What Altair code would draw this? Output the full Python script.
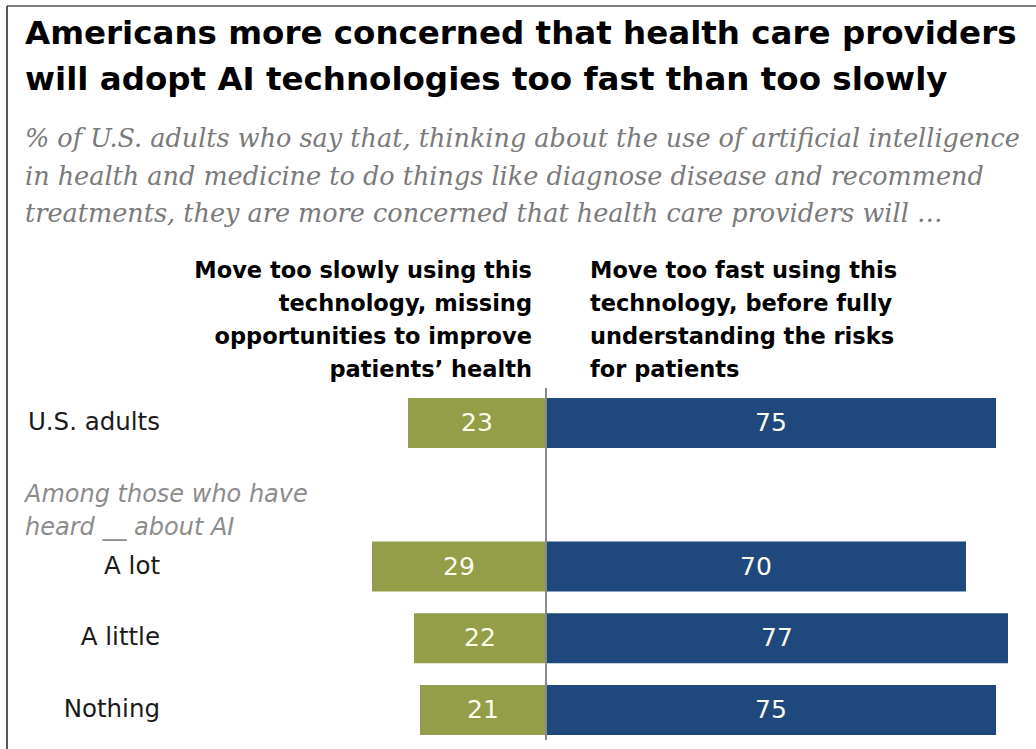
import altair as alt
import pandas as pd

# ---- data ----
groups = ["U.S. adults", "A lot", "A little", "Nothing"]
too_slow = [23, 29, 22, 21]
too_fast = [75, 70, 77, 75]
row_order = ["U.S. adults", "_gap_", "A lot", "A little", "Nothing"]

title_lines = ["Americans more concerned that health care providers",
               "will adopt AI technologies too fast than too slowly"]
subtitle_lines = ["% of U.S. adults who say that, thinking about the use of artificial intelligence",
                  "in health and medicine to do things like diagnose disease and recommend",
                  "treatments, they are more concerned that health care providers will \u2026"]
left_header = ["Move too slowly using this", "technology, missing",
               "opportunities to improve", "patients\u2019 health"]
right_header = ["Move too fast using this", "technology, before fully",
                "understanding the risks", "for patients"]
among_lines = ["Among those who have", "heard __ about AI"]

GREEN = "#949d48"
BLUE = "#1f497d"
SANS = "DejaVu Sans"

df = pd.DataFrame({"group": groups, "slow": too_slow, "fast": too_fast})
one = pd.DataFrame({"a": [0]})

xscale = alt.Scale(domain=[-91, 81.6667], range=[0, 1036], nice=False, zero=False)
yscale = alt.Scale(domain=row_order, range=[387, 746], paddingInner=0, paddingOuter=0)

base = alt.Chart(df).transform_calculate(
    neg="-datum.slow", zero="0", slow_mid="-datum.slow/2", fast_mid="datum.fast/2"
)

slow_bar = base.mark_bar(size=50, color=GREEN).encode(
    x=alt.X("neg:Q", scale=xscale, axis=None),
    x2="zero:Q",
    y=alt.Y("group:N", scale=yscale, axis=None),
)
fast_bar = base.mark_bar(size=50, color=BLUE).encode(
    x=alt.X("zero:Q", scale=xscale, axis=None),
    x2="fast:Q",
    y=alt.Y("group:N", scale=yscale, axis=None),
)
slow_txt = base.mark_text(font=SANS, fontSize=25, color="#fbfbee",
                          baseline="middle", align="center").encode(
    x=alt.X("slow_mid:Q", scale=xscale, axis=None),
    y=alt.Y("group:N", scale=yscale, axis=None),
    text="slow:Q",
)
fast_txt = base.mark_text(font=SANS, fontSize=25, color="#fbfbee",
                          baseline="middle", align="center").encode(
    x=alt.X("fast_mid:Q", scale=xscale, axis=None),
    y=alt.Y("group:N", scale=yscale, axis=None),
    text="fast:Q",
)
row_lbl = base.mark_text(font=SANS, fontSize=24.5, color="#1a1a1a",
                         baseline="middle", align="right").encode(
    x=alt.value(160),
    y=alt.Y("group:N", scale=yscale, axis=None),
    text="group:N",
)

center = alt.Chart(one).mark_rule(color="#8a8a8a", strokeWidth=2).encode(
    x=alt.X("a:Q", scale=xscale, axis=None),
    y=alt.value(388), y2=alt.value(740),
)

def txt(lines, x, y, size, weight="normal", style="normal", color="#000",
        font=SANS, align="left", lh=30):
    return alt.Chart(one).mark_text(
        text=lines, font=font, fontSize=size, fontWeight=weight, fontStyle=style,
        color=color, align=align, baseline="alphabetic", lineHeight=lh,
    ).encode(x=alt.value(x), y=alt.value(y))

title = txt(title_lines, 25, 44, 32.5, weight="bold", lh=46)
subtitle = txt(subtitle_lines, 25, 147, 25.5, style="italic", color="#7a7a7a",
               font="DejaVu Serif", lh=37.5)
lh_txt = txt(left_header, 532, 278, 22.5, weight="bold", align="right", lh=33)
rh_txt = txt(right_header, 590, 278, 22.5, weight="bold", align="left", lh=33)
among = txt(among_lines, 25, 502, 24, style="italic", color="#8c8c8c", lh=33)

frame_top = alt.Chart(one).mark_rule(color="#555555", strokeWidth=1.5).encode(
    x=alt.value(7), x2=alt.value(1036), y=alt.value(6))
frame_left = alt.Chart(one).mark_rule(color="#222222", strokeWidth=1.5).encode(
    x=alt.value(7), y=alt.value(6), y2=alt.value(749))

chart = alt.layer(
    frame_top, frame_left, slow_bar, fast_bar, center, slow_txt, fast_txt,
    row_lbl, title, subtitle, lh_txt, rh_txt, among,
).properties(
    width=1036, height=749, padding=0,
    autosize=alt.AutoSizeParams(type="none"),
    background="white",
).configure_view(stroke=None)

chart.save("out.html", embed_options={"renderer": "svg", "actions": False})
